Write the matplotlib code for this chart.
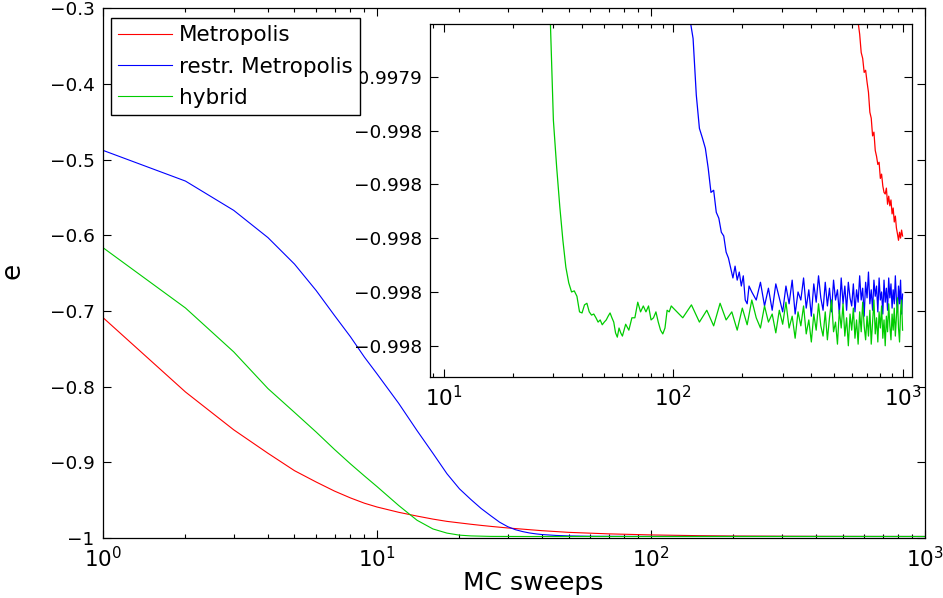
import numpy as np
import matplotlib
matplotlib.use('Agg')
from matplotlib import pyplot as plt
from matplotlib.ticker import LogLocator, NullFormatter

plt.rcParams['font.family'] = ['DejaVu Sans']
plt.rcParams['mathtext.fontset'] = 'dejavusans'

# sweep grids
head = list(range(1, 11)) + list(range(12, 29, 2))
red_sweeps = head + [30, 40, 50, 70, 100, 150, 200, 300, 400, 500, 600] + list(range(640, 1001, 10))
blue_sweeps = (head + [30, 32, 34, 36, 38, 40, 45, 50, 55, 60, 70, 80, 90, 100, 105, 110, 114]
               + list(range(118, 215, 4)) + list(range(220, 1001, 10)))
green_sweeps = head + list(range(29, 61)) + list(range(62, 101, 2)) + list(range(110, 1001, 10))

# energy per site
e_red = [
    -0.7087, -0.807, -0.857, -0.888, -0.911, -0.926, -0.938, -0.947, -0.954, -0.959,
    -0.966, -0.971, -0.975, -0.978, -0.980, -0.9818, -0.9833, -0.9846, -0.9857,
    -0.9867, -0.9903, -0.9925, -0.9945, -0.9959, -0.9969, -0.99735, -0.99765, -0.99780, -0.99787, -0.99791,
    -0.9979299, -0.9979321, -0.9979355, -0.9979366, -0.9979392, -0.9979388, -0.9979410, -0.9979429,
    -0.9979466, -0.9979477, -0.9979510, -0.9979503, -0.9979537, -0.9979548, -0.9979563, -0.9979559,
    -0.9979589, -0.9979581, -0.9979603, -0.9979615, -0.9979618, -0.9979607, -0.9979637, -0.9979622,
    -0.9979640, -0.9979629, -0.9979655, -0.9979644, -0.9979670, -0.9979659, -0.9979681, -0.9979692,
    -0.9979704, -0.9979689, -0.9979700, -0.9979685, -0.9979696,
]

e_blue = [
    -0.4877, -0.5283, -0.567, -0.603, -0.638, -0.673, -0.706, -0.734, -0.761, -0.783,
    -0.822, -0.858, -0.888, -0.915, -0.935, -0.949, -0.961, -0.9705, -0.979,
    -0.9850, -0.9890, -0.9915, -0.9933, -0.9945, -0.9954, -0.9966, -0.9972, -0.99752, -0.99768,
    -0.99780, -0.99785, -0.997875, -0.997885, -0.997895, -0.997905, -0.997916,
    -0.9979291, -0.9979329, -0.9979434, -0.9979496, -0.9979514, -0.9979533, -0.9979570, -0.9979615,
    -0.9979611, -0.9979652, -0.9979663, -0.9979689, -0.9979696, -0.9979726, -0.9979737, -0.9979756,
    -0.9979774, -0.9979752, -0.9979778, -0.9979763, -0.9979789, -0.9979770, -0.9979815, -0.9979822,
    -0.9979789,
    -0.9979800, -0.9979815, -0.9979782, -0.9979826, -0.9979793, -0.9979834, -0.9979785, -0.9979811, -0.9979837, -0.9979789,
    -0.9979822, -0.9979778, -0.9979841, -0.9979800, -0.9979815, -0.9979774, -0.9979830, -0.9979796, -0.9979845, -0.9979785,
    -0.9979819, -0.9979770, -0.9979811, -0.9979834, -0.9979782, -0.9979826, -0.9979793, -0.9979837, -0.9979778, -0.9979815,
    -0.9979796, -0.9979841, -0.9979774, -0.9979822, -0.9979789, -0.9979834, -0.9979782, -0.9979811, -0.9979826, -0.9979785,
    -0.9979837, -0.9979796, -0.9979819, -0.9979770, -0.9979815, -0.9979793, -0.9979845, -0.9979782, -0.9979811, -0.9979763,
    -0.9979822, -0.9979796, -0.9979834, -0.9979778, -0.9979808, -0.9979789, -0.9979837, -0.9979774, -0.9979815, -0.9979800,
    -0.9979841, -0.9979778, -0.9979819, -0.9979793, -0.9979834, -0.9979774, -0.9979811, -0.9979785, -0.9979830, -0.9979796,
    -0.9979822, -0.9979770, -0.9979815, -0.9979837, -0.9979789, -0.9979822, -0.9979778, -0.9979841, -0.9979804,
]

e_green = [
    -0.6163, -0.696, -0.754, -0.8025, -0.834, -0.860, -0.883, -0.902, -0.918, -0.932,
    -0.957, -0.9765, -0.988, -0.9935, -0.9962, -0.9972, -0.9976, -0.99785, -0.99791,
    -0.9979277, -0.9979481, -0.9979568, -0.9979642, -0.9979704, -0.9979754, -0.9979783, -0.9979800,
    -0.9979798, -0.9979808, -0.9979837, -0.9979839, -0.9979824, -0.9979821, -0.9979837, -0.9979843,
    -0.9979841, -0.9979848, -0.9979856, -0.9979852, -0.9979861, -0.9979856, -0.9979852, -0.9979845,
    -0.9979839, -0.9979848, -0.9979856, -0.9979876, -0.9979884, -0.9979867, -0.9979876, -0.9979882,
    -0.9979860, -0.9979871, -0.9979848, -0.9979848, -0.9979819, -0.9979837, -0.9979826, -0.9979837,
    -0.9979826, -0.9979852, -0.9979848, -0.9979837, -0.9979856, -0.9979871, -0.9979878, -0.9979867,
    -0.9979834, -0.9979837, -0.9979826, -0.9979830,
    -0.9979848, -0.9979824, -0.9979856, -0.9979834, -0.9979863, -0.9979821, -0.9979852, -0.9979837, -0.9979871, -0.9979830,
    -0.9979861, -0.9979815, -0.9979848, -0.9979867, -0.9979826, -0.9979856, -0.9979841, -0.9979876, -0.9979834, -0.9979860,
    -0.9979819, -0.9979867, -0.9979845, -0.9979886, -0.9979837, -0.9979863, -0.9979826, -0.9979878, -0.9979852, -0.9979893,
    -0.9979841, -0.9979871, -0.9979822, -0.9979863, -0.9979882, -0.9979837, -0.9979889, -0.9979848, -0.9979815, -0.9979874,
    -0.9979856, -0.9979897, -0.9979834, -0.9979867, -0.9979822, -0.9979882, -0.9979848, -0.9979900, -0.9979841, -0.9979871,
    -0.9979830, -0.9979886, -0.9979852, -0.9979897, -0.9979837, -0.9979874, -0.9979819, -0.9979863, -0.9979889, -0.9979845,
    -0.9979882, -0.9979834, -0.9979897, -0.9979856, -0.9979815, -0.9979878, -0.9979848, -0.9979893, -0.9979837, -0.9979867,
    -0.9979826, -0.9979886, -0.9979852, -0.9979900, -0.9979845, -0.9979874, -0.9979822, -0.9979863, -0.9979889, -0.9979841,
    -0.9979871, -0.9979830, -0.9979882, -0.9979848, -0.9979811, -0.9979867, -0.9979893, -0.9979837, -0.9979815, -0.9979871,
]

labels = ['Metropolis', 'restr. Metropolis', 'hybrid']
colors = ['#ff0000', '#0000ff', '#00cc00']

main_yticks = [-1, -0.9, -0.8, -0.7, -0.6, -0.5, -0.4, -0.3]
main_yticklabels = ['\u22121', '\u22120.9', '\u22120.8', '\u22120.7', '\u22120.6', '\u22120.5', '\u22120.4', '\u22120.3']
inset_yticks = [-0.99794, -0.99795, -0.99796, -0.99797, -0.99798, -0.99799]
inset_yticklabels = ['\u22120.9979', '\u22120.998', '\u22120.998', '\u22120.998', '\u22120.998', '\u22120.998']

series = [(red_sweeps, e_red), (blue_sweeps, e_blue), (green_sweeps, e_green)]


def style(a):
    a.tick_params(which='both', direction='in', top=True, right=True, width=0.8)
    a.tick_params(axis='y', labelsize=13.3)
    a.tick_params(axis='x', labelsize=15.5)
    a.tick_params(which='major', length=6, pad=6)
    a.tick_params(which='minor', length=3)
    a.xaxis.set_major_locator(LogLocator(base=10, numticks=10))
    a.xaxis.set_minor_locator(LogLocator(base=10, subs=np.arange(2, 10), numticks=20))
    a.xaxis.set_minor_formatter(NullFormatter())
    for sp in a.spines.values():
        sp.set_linewidth(0.9)


fig = plt.figure(figsize=(9.43, 5.98), dpi=100)
ax = fig.add_axes([0.1092, 0.1003, 0.8717, 0.8858])
handles = []
for (s, e), c, lab in zip(series, colors, labels):
    h, = ax.plot(s, e, color=c, lw=0.8, label=lab)
    handles.append(h)
ax.set_xscale('log')
ax.set_xlim(1, 1000)
ax.set_ylim(-1, -0.3)
ax.set_yticks(main_yticks)
ax.set_yticklabels(main_yticklabels)
style(ax)
ax.set_xlabel('MC sweeps', fontsize=18)
ax.xaxis.set_label_coords(0.523, -0.062)
ax.set_ylabel('e', fontsize=19)
ax.yaxis.set_label_coords(-0.094, 0.504)

ins = fig.add_axes([0.456, 0.3696, 0.511, 0.5903])
for (s, e), c in zip(series, colors):
    ins.plot(s, e, color=c, lw=0.9)
ins.set_xscale('log')
ins.set_xlim(8.69, 1098)
ins.set_ylim(-0.9979958, -0.9979302)
ins.set_yticks(inset_yticks)
ins.set_yticklabels(inset_yticklabels)
style(ins)

fig.legend(handles, labels, loc='upper left', bbox_to_anchor=(111 / 943, 1 - 18 / 598),
           fontsize=15.5, frameon=True, fancybox=False, edgecolor='black', framealpha=1,
           borderaxespad=0, handlelength=2.5, handletextpad=0.33, labelspacing=0.52,
           borderpad=0.34)

fig.savefig('out.png', dpi=100)
